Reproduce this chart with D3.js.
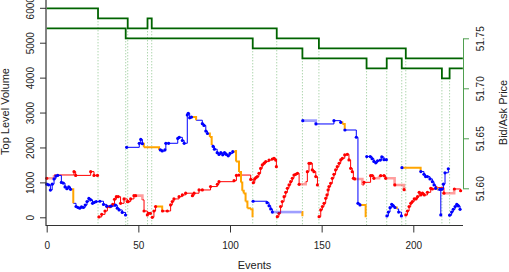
<!DOCTYPE html>
<html>
<head>
<meta charset="utf-8">
<script src="https://cdn.jsdelivr.net/npm/d3@7"></script>
<style>
body { margin: 0; background: #fff; }
svg { display: block; font-family: "Liberation Sans", Arial, sans-serif; }
</style>
</head>
<body>
<svg id="plot" width="509" height="272"></svg>
<script>
// price levels (right axis), step changes at these events
var askStepE = [0, 28, 44.2, 55, 57.3, 125.5, 148.5, 195.9];
var askStepP = [51.78, 51.77, 51.76, 51.77, 51.76, 51.75, 51.74, 51.73];
var bidStepE = [0, 43.1, 112.4, 139.5, 174.5, 185.5, 193.7, 215.6, 219.8];
var bidStepP = [51.76, 51.75, 51.74, 51.73, 51.72, 51.73, 51.72, 51.71, 51.72];
var lastEvent = 227;

var xTicks = [0, 50, 100, 150, 200];
var volTicks = [0, 1000, 2000, 3000, 4000, 5000, 6000];
var priceTicks = [51.60, 51.65, 51.70, 51.75];

// volume points: [event, volume, kind]
// kind: s = new level (dot), d = update (dot), o = trade, l = unchanged, n = plain step
var bid1 = [[0,950,"s"],[1,930,"d"],[2,780,"d"],[3,950,"d"],[4,1100,"d"],[5,1180,"d"],[6,1200,"d"],
  [8,1000,"d"],[9,980,"d"],[10,870,"d"],[11,820,"d"],[12,870,"d"],[13,800,"d"],[14.5,400,"o"],
  [16,310,"d"],[17,280,"d"],[18,260,"d"],[19,300,"d"],[20,280,"d"],[21,350,"d"],[22,450,"d"],
  [23,540,"d"],[24,500,"d"],[25,400,"d"],[26,430,"d"],[27,450,"d"],[29,460,"d"],[31,370,"d"],
  [32.7,320,"d"],[35,320,"d"],[37.5,350,"d"],[38.5,260,"d"],[39.5,210,"d"],[41.2,140,"d"],[43,66,"d"]];
var bid2 = [[43.6,2004,"s"],[50.5,2120,"d"],[51.3,2230,"d"],[52.2,2110,"d"],[53,2004,"o"],
  [61.3,1930,"o"],[62,1930,"d"],[63,1900,"d"],[64.5,1930,"d"],[65,2120,"d"],[66.5,2120,"d"],
  [71.5,2260,"d"],[72.3,2290,"d"],[74,2200,"d"],[75,2120,"d"],[76.7,2930,"d"],[77.2,2980,"d"],
  [78,2850,"d"],[79,2870,"d"],[81.5,2780,"o"],[84.9,2680,"d"],[85.8,2630,"d"],[86.8,2470,"d"],
  [87.7,2400,"d"],[89,2300,"o"],[90,2070,"o"],[90.8,2030,"d"],[91.5,1950,"d"],[93,1850,"d"],
  [94,1800,"d"],[95,1850,"d"],[96,1790,"d"],[97,1850,"d"],[98,1800,"d"],[99,1760,"d"],
  [100,1830,"d"],[101.5,1880,"d"],[102.5,1900,"o"],[103.3,1600,"o"],[104.9,1300,"o"],
  [106,1000,"o"],[106.7,760,"o"],[107.5,680,"o"],[108.5,450,"o"],[109.5,260,"o"],[111,230,"o"],[112.3,0,"o"]];
var bid3 = [[112.6,460,"s"],[120.2,420,"d"],[121.3,330,"d"],[122.2,240,"d"],[123.1,150,"d"],
  [139.2,150,"l"],[139.5,30,"o"]];
var bid4 = [[139.7,2768,"s"],[146.8,2673,"l"],[146.9,2673,"d"],[156.7,2768,"d"],[160.4,2720,"d"],
  [161.3,2673,"o"],[162.6,2500,"o"],[162.7,2500,"d"],[168.9,2292,"d"],[169.8,400,"d"],
  [170.9,354,"d"],[174,0,"o"]];
var bid5 = [[174.6,1740,"s"],[176.5,1740,"d"],[177.5,1680,"d"],[178.5,1600,"d"],[179.5,1560,"d"],
  [180.5,1620,"d"],[182,1640,"d"],[182.8,1730,"d"],[184,1650,"d"],[185.3,1650,"d"]];
var bid6 = [[185.6,40,"s"],[186.4,150,"d"],[187.3,275,"d"],[188.2,372,"d"],[189.1,325,"d"],
  [190,280,"d"],[191,240,"o"],[192,150,"d"],[193.5,40,"d"]];
var bid7 = [[193.8,1420,"s"],[204,1310,"o"],[204.1,1310,"d"],[205.8,1230,"d"],[206.7,1165,"d"],
  [207.7,1165,"d"],[209.1,1100,"d"],[210.4,1020,"d"],[211.3,926,"d"],[212.2,830,"d"],
  [213.1,783,"o"],[214.5,800,"d"],[215,67,"d"]];
var bid8 = [[215.5,800,"s"],[216.4,950,"d"],[217.3,1275,"d"],[219.1,1390,"d"]];
var bid9 = [[219.8,60,"s"],[220.9,150,"d"],[221.8,230,"d"],[222.8,306,"d"],[223.7,372,"d"],
  [224.6,325,"d"],[225.5,229,"d"]];

var ask1 = [[0,1117,"s"],[4,1212,"l"],[14.9,1308,"d"],[15.8,1200,"d"],[24,1308,"d"],[25.8,1200,"d"],[27.7,1200,"d"]];
var ask2 = [[28.5,10,"s"],[30,85,"d"],[31.8,180,"d"],[33.1,305,"d"],[34.5,305,"d"],[36,370,"d"],
  [37,515,"d"],[38,590,"d"],[39,590,"d"],[40.3,400,"d"],[42.2,526,"d"],[44,450,"d"]];
var ask3 = [[44.5,450,"s"],[45.8,526,"d"],[47.6,620,"d"],[48.5,620,"d"],[52.2,498,"l"],[53.1,180,"d"],[54.9,67,"d"]];
var ask4 = [[55.6,115,"s"],[56.6,115,"d"]];
var ask5 = [[57.6,0,"s"],[58.5,180,"d"],[59.4,306,"d"],[63,180,"o"],[63.2,180,"d"],[65.8,180,"d"],
  [67.6,354,"d"],[68.5,449,"d"],[69.4,526,"d"],[72.2,592,"d"],[74,640,"d"],[75.8,690,"d"],
  [79.5,620,"d"],[80.4,690,"d"],[83.1,783,"d"],[84.9,783,"d"],[89.4,880,"d"],[93.1,945,"d"],
  [94,1020,"d"],[102.2,1050,"d"],[103.5,1200,"d"],[104.9,1210,"d"],[111.3,1085,"d"],
  [112.7,990,"d"],[113.5,1100,"d"],[114.2,1140,"d"],[114.9,1165,"d"],[115.8,1260,"d"],
  [116.7,1400,"d"],[117.6,1500,"d"],[118.6,1550,"d"],[119.5,1595,"d"],[121.3,1640,"d"],
  [123.1,1670,"d"],[124,1690,"d"],[124.9,1640,"d"],[125.3,1450,"d"]];
var ask6 = [[125.8,19,"s"],[126.7,115,"d"],[127.6,306,"d"],[128.5,449,"d"],[129.5,592,"d"],
  [130.4,716,"d"],[131.3,831,"d"],[132.2,926,"d"],[133.1,1021,"d"],[134,1117,"d"],
  [134.9,1212,"d"],[135.8,1231,"d"],[136.8,1260,"d"],[137.7,945,"d"],[141.3,1021,"l"],
  [142.2,1308,"d"],[143.1,1547,"d"],[144,1547,"d"],[144.9,1356,"d"],[145.8,1308,"d"],
  [146.8,1165,"d"],[147.7,926,"d"]];
var ask7 = [[148.6,19,"s"],[149.5,210,"d"],[150.4,306,"d"],[151.3,401,"d"],[152.2,544,"d"],
  [152.9,640,"d"],[153.5,783,"d"],[154,879,"d"],[154.9,974,"d"],[155.8,1117,"d"],
  [156.7,1231,"d"],[157.6,1356,"d"],[158.5,1451,"d"],[159.5,1547,"d"],[160.4,1643,"d"],
  [161.3,1690,"d"],[162.6,1786,"d"],[164,1805,"d"],[164.9,1643,"d"],[165.8,1403,"d"],
  [166.7,1308,"d"],[167.3,1117,"d"],[168,1098,"d"],[172.2,926,"l"],[173.1,1002,"d"],
  [176.7,1193,"d"],[177.6,1193,"d"],[178.5,1117,"d"],[181.3,1193,"l"],[182.2,1193,"d"],
  [184,1193,"d"],[184.9,1117,"d"],[189.8,926,"l"],[189.9,926,"d"],[194.9,790,"l"],[195,790,"d"]];
var ask8 = [[195.9,67,"s"],[196.8,180,"d"],[197.7,306,"d"],[198.6,400,"d"],[199.5,450,"d"],
  [200.5,526,"d"],[201.4,526,"d"],[202.3,592,"d"],[203.2,716,"d"],[204.1,640,"d"],[205,690,"d"],
  [206,640,"d"],[207.7,716,"d"],[209.5,830,"d"],[210.4,810,"d"],[212.5,850,"d"],[216.7,690,"d"],
  [222.3,811,"l"],[222.4,811,"d"],[225.8,760,"d"]];

var bidSegs = [bid1, bid2, bid3, bid4, bid5, bid6, bid7, bid8, bid9];
var askSegs = [ask1, ask2, ask3, ask4, ask5, ask6, ask7, ask8];

var svg = d3.select("#plot");

//scales
var x = d3.scaleLinear().domain([0, lastEvent]).range([46.7, 462.8]);
var yVol = d3.scaleLinear().domain([0, 6000]).range([217.3, 7.8]);
var yPrice = d3.scaleLinear().domain([51.60, 51.75]).range([188.3, 38.3]);
var bottom = 225.5;

//dotted lines at price changes
var drawGuides = function(E, P)
{
    for (var i = 1; i < E.length; i++) {
        var yy = Math.max(yPrice(P[i - 1]), yPrice(P[i]));
        svg.append("line")
            .attr("x1", x(E[i])).attr("x2", x(E[i]))
            .attr("y1", yy).attr("y2", bottom)
            .attr("stroke", "#8cc48c")
            .attr("stroke-width", 1)
            .attr("stroke-dasharray", "1,2");
    }
};
drawGuides(askStepE, askStepP);
drawGuides(bidStepE, bidStepP);

//volume step lines
var drawSide = function(segs, col, light)
{
    var g = svg.append("g");
    var styles = {
        l: {c: light, w: 2.6},
        n: {c: col, w: 1},
        d: {c: col, w: 1},
        o: {c: "#ffa500", w: 2}
    };
    ["l", "n", "o"].forEach(function(pass) {
        segs.forEach(function(seg) {
            for (var i = 1; i < seg.length; i++) {
                var k = seg[i][2] == "d" ? "n" : seg[i][2];
                if (k != pass) continue;
                var p = seg[i - 1], q = seg[i];
                g.append("path")
                    .attr("d", "M" + x(p[0]) + "," + yVol(p[1]) + "H" + x(q[0]) + "V" + yVol(q[1]))
                    .attr("fill", "none")
                    .attr("stroke", styles[seg[i][2]].c)
                    .attr("stroke-width", styles[seg[i][2]].w);
            }
        });
    });
    var pts = [];
    segs.forEach(function(seg) {
        seg.forEach(function(p) { if (p[2] == "s" || p[2] == "d") pts.push(p); });
    });
    g.selectAll("circle")
        .data(pts)
        .enter()
        .append("circle")
        .attr("cx", function(d) { return x(d[0]); })
        .attr("cy", function(d) { return yVol(d[1]); })
        .attr("r", 1.6)
        .attr("fill", col);
};
drawSide(askSegs, "#ff0000", "rgba(255,0,0,0.38)");
drawSide(bidSegs, "#0000ff", "rgba(0,0,255,0.38)");

//price lines
var priceLine = d3.line()
    .x(function(d) { return x(d[0]); })
    .y(function(d) { return yPrice(d[1]); })
    .curve(d3.curveStepAfter);
var stepPoints = function(E, P)
{
    var pts = E.map(function(e, i) { return [e, P[i]]; });
    pts.push([lastEvent, P[P.length - 1]]);
    return pts;
};
var priceSides = [[askStepE, askStepP], [bidStepE, bidStepP]];
priceSides.forEach(function(s) {
    svg.append("path")
        .attr("d", priceLine(stepPoints(s[0], s[1])))
        .attr("fill", "none")
        .attr("stroke", "#006400")
        .attr("stroke-width", 1.8);
});

//box (left + bottom)
svg.append("path")
    .attr("d", "M46,-2V" + bottom + "H463")
    .attr("fill", "none")
    .attr("stroke", "#333")
    .attr("stroke-width", 1.2);

//axes
var gL = svg.append("g")
    .attr("transform", "translate(46,0)")
    .call(d3.axisLeft(yVol).tickValues(volTicks).tickFormat(d3.format("d")).tickSize(6).tickSizeOuter(0));
gL.select(".domain").remove();

var gB = svg.append("g")
    .attr("transform", "translate(0," + bottom + ")")
    .call(d3.axisBottom(x).tickValues(xTicks).tickFormat(d3.format("d")).tickSize(7).tickSizeOuter(0));
gB.select(".domain").remove();

var gR = svg.append("g")
    .attr("transform", "translate(463,0)")
    .call(d3.axisRight(yPrice).tickValues(priceTicks).tickFormat(d3.format(".2f")).tickSize(6).tickSizeOuter(0));

[gL, gB, gR].forEach(function(g) {
    g.attr("font-family", "Liberation Sans, Arial, sans-serif")
        .attr("font-size", 10)
        .attr("color", "#333");
    g.selectAll("text").attr("fill", "#222");
});
gR.attr("color", "#4f9f4f");

gL.selectAll(".tick text")
    .attr("transform", "rotate(-90)")
    .attr("x", 0).attr("y", -12.5).attr("dy", 0)
    .attr("text-anchor", "middle");
gR.selectAll(".tick text")
    .attr("transform", "rotate(-90)")
    .attr("x", 0).attr("y", 21).attr("dy", 0)
    .attr("text-anchor", "middle");
gB.selectAll(".tick text")
    .attr("y", 23.5).attr("dy", 0);

//titles
svg.append("text")
    .attr("transform", "translate(9,111.5) rotate(-90)")
    .attr("text-anchor", "middle")
    .attr("font-size", 11)
    .attr("fill", "#222")
    .text("Top Level Volume");
svg.append("text")
    .attr("transform", "translate(507,112.5) rotate(-90)")
    .attr("text-anchor", "middle")
    .attr("font-size", 11)
    .attr("fill", "#222")
    .text("Bid/Ask Price");
svg.append("text")
    .attr("x", 254.5).attr("y", 269)
    .attr("text-anchor", "middle")
    .attr("font-size", 11)
    .attr("fill", "#222")
    .text("Events");
</script>
</body>
</html>
